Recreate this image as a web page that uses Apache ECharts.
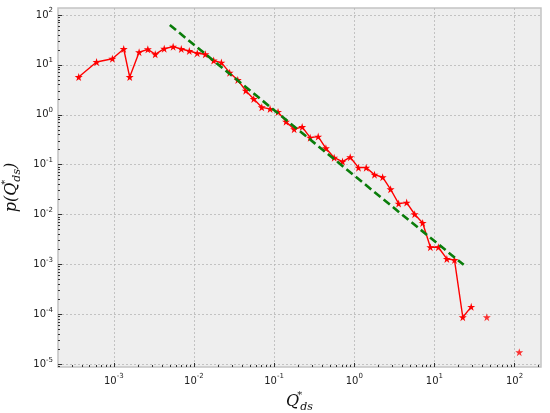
<!DOCTYPE html>
<html>
<head>
<meta charset="utf-8">
<script src="https://cdn.jsdelivr.net/npm/echarts@6/dist/echarts.min.js"></script>
<style>
html,body{margin:0;padding:0;background:#fff;}
#chart{width:550px;height:413px;}
</style>
</head>
<body>
<div id="chart"></div>
<script>
// ---- data ----
const qLine = [3.65e-4, 6.1e-4, 9.6e-4, 1.33e-3, 1.58e-3, 2.07e-3, 2.66e-3, 3.29e-3, 4.26e-3, 5.5e-3, 6.95e-3, 8.75e-3,
  0.0110, 0.01387, 0.01763, 0.022, 0.0279, 0.0352, 0.0443, 0.0557, 0.0702, 0.0891, 0.112, 0.141, 0.178, 0.224, 0.282, 0.355,
  0.443, 0.562, 0.714, 0.891, 1.13, 1.41, 1.79,
  2.26, 2.84, 3.58, 4.51, 5.67, 7.14, 8.91, 11.2, 14.3, 17.8, 22.6, 28.8];
const pLine = [5.7, 11.4, 13.3, 20.8, 5.7, 17.9, 20.5, 16.3, 21.1, 23.2, 20.8, 19.0,
  17.1, 16.3, 12.2, 11.1, 6.98, 4.98, 3.04, 2.07, 1.41, 1.31, 1.14, 0.728, 0.513, 0.570, 0.348, 0.365,
  0.213, 0.138, 0.115, 0.141, 0.0871, 0.0871, 0.063,
  0.056, 0.0321, 0.01655, 0.01734, 0.01014, 0.00679, 0.00221, 0.00221, 0.00129, 0.00123, 8.75e-5, 1.41e-4];
const qIso = [45.1, 114.5];
const pIso = [8.75e-5, 1.74e-5];
const qFit = [0.005, 23.2];
const pFit = [63, 9.8e-4];
const xDecades = [1e-3, 1e-2, 1e-1, 1, 10, 100];
const yDecades = [1e-5, 1e-4, 1e-3, 1e-2, 1e-1, 1, 10, 100];

// ---- layout ----
const xMin = Math.pow(10, -3.696), xMax = Math.pow(10, 2.33);
const yMin = Math.pow(10, -5.056), yMax = Math.pow(10, 2.14);

function minors(decs, lo, hi) {
  const out = [];
  const first = decs[0] / 10;
  for (let d = first; d <= decs[decs.length - 1] * 10; d *= 10) {
    for (let k = 2; k <= 9; k++) {
      const v = k * d;
      if (v > lo && v < hi) out.push(v);
    }
  }
  return out;
}
const xMinors = minors(xDecades, xMin, xMax);
const yMinors = minors(yDecades, yMin, yMax);

const zip = (a, b) => a.map((v, i) => [v, b[i]]);

const star = 'path://M50,0 L61.2,34.5 L97.6,34.5 L68.2,55.9 L79.4,90.5 L50,69.1 L20.6,90.5 L31.8,55.9 L2.4,34.5 L38.8,34.5 Z';

const labelFmt = v => {
  const e = Math.round(Math.log10(v));
  return '{b|10}{s|' + e + '}';
};
const labelRich = {
  b: {fontFamily: 'DejaVu Sans', fontSize: 10, color: '#222', lineHeight: 16},
  s: {fontFamily: 'DejaVu Sans', fontSize: 7, color: '#222', lineHeight: 9, verticalAlign: 'top'}
};

const chart = echarts.init(document.getElementById('chart'), null, {renderer: 'canvas'});
chart.setOption({
  animation: false,
  backgroundColor: '#ffffff',
  grid: {left: 58, right: 9, top: 8, bottom: 46, show: true, containLabel: false, outerBoundsMode: 'none',
    backgroundColor: '#eeeeee', borderColor: '#c4c4c4', borderWidth: 1.5},
  xAxis: [{
    type: 'log', min: xMin, max: xMax, splitNumber: 6,
    axisLine: {show: false},
    axisTick: {show: true, inside: true, length: 4, customValues: xDecades, lineStyle: {color: '#333', width: 1}},
    axisLabel: {customValues: xDecades, formatter: labelFmt, rich: labelRich, margin: 6},
    splitLine: {show: true, lineStyle: {color: '#b6b6b6', type: [2, 2], width: 0.8}},
    name: '{q|Q}{st|*}{d|ds}', nameLocation: 'middle', nameGap: 21,
    nameTextStyle: {rich: {
      q: {fontFamily: 'DejaVu Serif', fontStyle: 'italic', fontSize: 16, color: '#111', lineHeight: 22},
      st: {fontFamily: 'DejaVu Serif', fontSize: 10, color: '#111', lineHeight: 10, verticalAlign: 'top', width: 1},
      d: {fontFamily: 'DejaVu Serif', fontStyle: 'italic', fontSize: 11, color: '#111', lineHeight: 10, verticalAlign: 'bottom'}
    }}
  }, {
    type: 'log', min: xMin, max: xMax, position: 'bottom',
    axisLine: {show: false}, axisLabel: {show: false}, splitLine: {show: false},
    axisTick: {show: true, inside: true, length: 2, customValues: xMinors, lineStyle: {color: '#333', width: 1}}
  }],
  yAxis: [{
    type: 'log', min: yMin, max: yMax, splitNumber: 7,
    axisLine: {show: false},
    axisTick: {show: true, inside: true, length: 4, customValues: yDecades, lineStyle: {color: '#333', width: 1}},
    axisLabel: {customValues: yDecades, formatter: labelFmt, rich: labelRich, margin: 5},
    splitLine: {show: true, lineStyle: {color: '#b6b6b6', type: [2, 2], width: 0.8}},
    name: '{p|p(Q}{st|*}{d|ds}{p|)}', nameLocation: 'middle', nameGap: 32, nameRotate: 90,
    nameTextStyle: {rich: {
      p: {fontFamily: 'DejaVu Serif', fontStyle: 'italic', fontSize: 16, color: '#111', lineHeight: 22},
      st: {fontFamily: 'DejaVu Serif', fontSize: 10, color: '#111', lineHeight: 10, verticalAlign: 'top', width: 1},
      d: {fontFamily: 'DejaVu Serif', fontStyle: 'italic', fontSize: 11, color: '#111', lineHeight: 10, verticalAlign: 'bottom'}
    }}
  }, {
    type: 'log', min: yMin, max: yMax, position: 'left',
    axisLine: {show: false}, axisLabel: {show: false}, splitLine: {show: false},
    axisTick: {show: true, inside: true, length: 2, customValues: yMinors, lineStyle: {color: '#333', width: 1}}
  }],
  series: [{
    type: 'line', data: zip(qLine, pLine), xAxisIndex: 0, yAxisIndex: 0,
    symbol: star, symbolSize: 8, showAllSymbol: true,
    lineStyle: {color: '#ff0000', width: 1.4},
    itemStyle: {color: '#ff0000'}, z: 3
  }, {
    type: 'scatter', data: zip(qIso, pIso), xAxisIndex: 0, yAxisIndex: 0,
    symbol: star, symbolSize: 8,
    itemStyle: {color: '#ff0000'}, z: 3
  }, {
    type: 'line', data: zip(qFit, pFit), xAxisIndex: 0, yAxisIndex: 0,
    symbol: 'none',
    lineStyle: {color: '#0a7d0a', width: 2.6, type: [8, 4], cap: 'butt'}, z: 4
  }]
});
</script>
</body>
</html>
